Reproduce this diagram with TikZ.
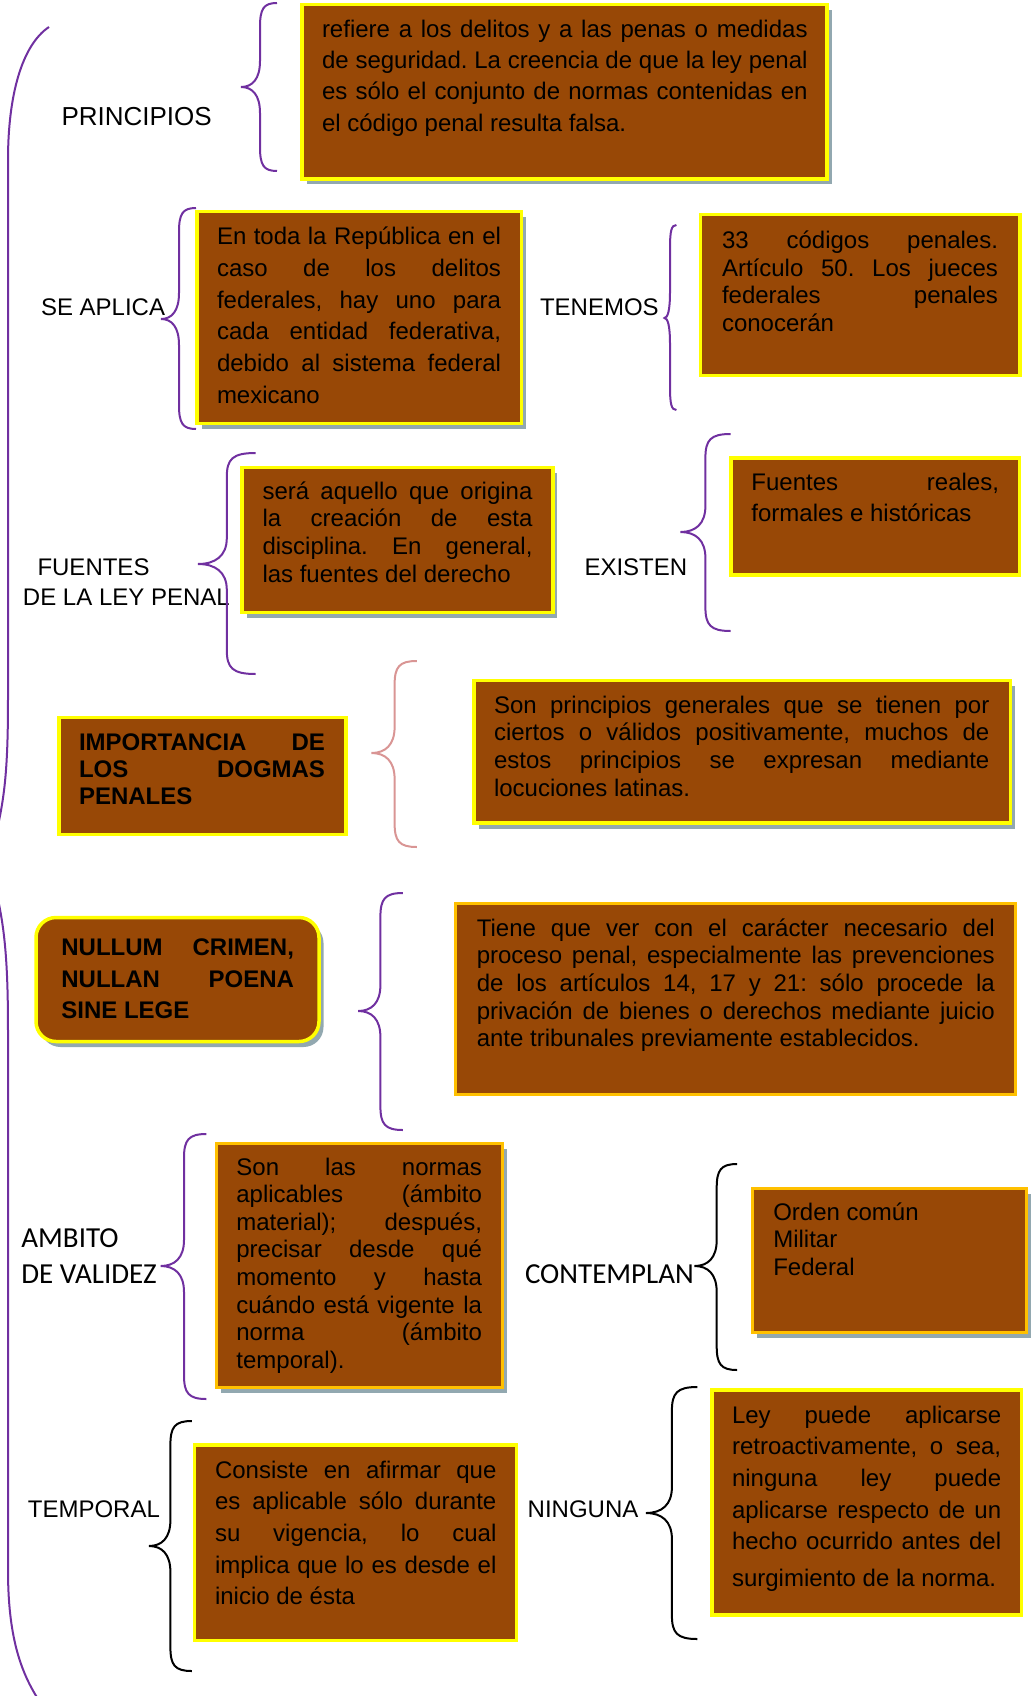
\documentclass[tikz,border=0pt]{standalone}
\usepackage{fontspec}
\setmainfont{Liberation Sans}
\newfontfamily\calib{Carlito}
\usetikzlibrary{shadows}
\frenchspacing
\definecolor{brn}{RGB}{152,72,6}
\definecolor{ylw}{RGB}{255,255,0}
\definecolor{gld}{RGB}{255,192,0}
\definecolor{shd}{RGB}{146,168,176}
\definecolor{prp}{RGB}{112,48,160}
\definecolor{pnk}{RGB}{217,149,148}
\newcommand\jl[1]{\hbox to\hsize{#1}}
\newcommand\el[1]{\hbox{#1}}
\newcommand\tb[3]{\fontsize{24}{#2}\selectfont\frenchspacing\vtop{\hsize=#1pt\lineskiplimit=-100pt #3}}
% xe xs xt ytop ymid ybot options
\newcommand\mybrace[7]{%
 \draw[brc,#7] (#1,#4) .. controls ({#2+0.2*(#1-#2)},#4) and (#2,#4+6) .. (#2,#4+24) -- (#2,#5-26)
 .. controls (#2,#5-8) and ({#2-0.4*(#2-#3)},#5) .. (#3,#5)
 .. controls ({#2-0.4*(#2-#3)},#5) and (#2,#5+8) .. (#2,#5+26) -- (#2,#6-24)
 .. controls (#2,#6-6) and ({#2+0.2*(#1-#2)},#6) .. (#1,#6);}
\tikzset{
 boxy/.style={draw=ylw, fill=brn, line width=3.5pt, rectangle, inner sep=0pt, outer sep=0pt, anchor=north west},
 boxg/.style={boxy, draw=gld, line width=3pt},
 shad/.style={drop shadow={shadow xshift=4.5pt, shadow yshift=-5.5pt, fill=shd, opacity=1}},
 txt/.style={inner sep=0pt, outer sep=0pt, anchor=base west, text=black},
 lbl/.style={txt, font=\fontsize{24}{30}\selectfont},
 clbl/.style={txt, font=\calib\fontsize{29}{36}\selectfont},
 brc/.style={line width=2pt, draw=prp},
}
\begin{document}
\begin{tikzpicture}[x=1pt,y=-1pt]
\useasboundingbox (0,0) rectangle (1034,1696);
% boxes
\node[boxy, shad, minimum width=525pt, minimum height=174.5pt] (b1) at (302,4.5) {};
\node[boxy, shad, minimum width=324.5pt, minimum height=212pt] (b2) at (197,211.5) {};
\node[boxy, minimum width=319.2pt, minimum height=161pt] (b3) at (700.6,214.5) {};
\node[boxy, shad, minimum width=310.8pt, minimum height=145pt] (b4) at (242,467.5) {};
\node[boxy, minimum width=288.4pt, minimum height=117pt] (b5) at (731,458) {};
\node[boxy, minimum width=287pt, minimum height=117pt] (bimp) at (59,717.5) {};
\node[boxy, shad, minimum width=536.6pt, minimum height=142.5pt] (b6) at (474,680.5) {};
\node[boxy, shad, rounded corners=20pt, minimum width=283pt, minimum height=124pt] (bnull) at (36,917.5) {};
\node[boxg, minimum width=560pt, minimum height=191pt] (b7) at (455,903.5) {};
\node[boxg, shad, minimum width=286.6pt, minimum height=244pt] (b8) at (216,1143.5) {};
\node[boxg, shad, minimum width=274pt, minimum height=144pt] (b9) at (752,1188.5) {};
\node[boxy, minimum width=322.1pt, minimum height=195.5pt] (b10) at (194.6,1445) {};
\node[boxy, minimum width=309.3pt, minimum height=225pt] (b11) at (712,1390) {};
% box texts
\node[txt] (t1) at (322,37.3) {\tb{485.6}{31.3}{%
\jl{refiere a los delitos y a las penas o medidas}%
\jl{de seguridad. La creencia de que la ley penal}%
\jl{es sólo el conjunto de normas contenidas en}%
\el{el código penal resulta falsa.}}};
\node[txt] (t2) at (217,245) {\tb{284}{31.66}{%
\jl{En toda la República en el}%
\jl{caso de los delitos}%
\jl{federales, hay uno para}%
\jl{cada entidad federativa,}%
\jl{debido al sistema federal}%
\el{mexicano}}};
\node[txt] (t3) at (722,248.3) {\tb{276}{27.8}{%
\jl{33 códigos penales.}%
\jl{Artículo 50. Los jueces}%
\jl{federales penales}%
\el{conocerán}}};
\node[txt] (t4) at (262.5,499) {\tb{270}{27.8}{%
\jl{será aquello que origina}%
\jl{la creación de esta}%
\jl{disciplina. En general,}%
\el{las fuentes del derecho}}};
\node[txt] (t5) at (751.4,490.7) {\tb{247.6}{31}{%
\jl{Fuentes reales,}%
\el{formales e históricas}}};
\node[txt, font=\bfseries] (timp) at (79,750) {\tb{246}{27.2}{\bfseries
\jl{IMPORTANCIA DE}%
\jl{LOS DOGMAS}%
\el{PENALES}}};
\node[txt] (t6) at (494,713.3) {\tb{495.4}{27.6}{%
\jl{Son principios generales que se tienen por}%
\jl{ciertos o válidos positivamente, muchos de}%
\jl{estos principios se expresan mediante}%
\el{locuciones latinas.}}};
\node[txt, font=\bfseries] (tnull) at (61.4,955.7) {\tb{232.6}{31.3}{\bfseries
\jl{NULLUM CRIMEN,}%
\jl{NULLAN POENA}%
\el{SINE LEGE}}};
\node[txt] (t7) at (476.8,936) {\tb{518}{27.7}{%
\jl{Tiene que ver con el carácter necesario del}%
\jl{proceso penal, especialmente las prevenciones}%
\jl{de los artículos 14, 17 y 21: sólo procede la}%
\jl{privación de bienes o derechos mediante juicio}%
\el{ante tribunales previamente establecidos.}}};
\node[txt] (t8) at (236.4,1175) {\tb{245.6}{27.6}{%
\jl{Son las normas}%
\jl{aplicables (ámbito}%
\jl{material); después,}%
\jl{precisar desde qué}%
\jl{momento y hasta}%
\jl{cuándo está vigente la}%
\jl{norma (ámbito}%
\el{temporal).}}};
\node[txt] (t9) at (773.3,1220) {\tb{230}{27.5}{%
\el{Orden común}%
\el{Militar}%
\el{Federal}}};
\node[txt] (t10) at (215,1478) {\tb{281.4}{31.7}{%
\jl{Consiste en afirmar que}%
\jl{es aplicable sólo durante}%
\jl{su vigencia, lo cual}%
\jl{implica que lo es desde el}%
\el{inicio de ésta}}};
\node[txt] (t11) at (732,1423) {\tb{269.2}{31.7}{%
\jl{Ley puede aplicarse}%
\jl{retroactivamente, o sea,}%
\jl{ninguna ley puede}%
\jl{aplicarse respecto de un}%
\jl{hecho ocurrido antes del}%
\kern4.6pt\el{surgimiento de la norma.}}};
% labels
\node[lbl, font=\fontsize{26}{30}\selectfont] (principios) at (61.5,126) {PRINCIPIOS};
\node[lbl] (seaplica) at (41,315) {SE APLICA};
\node[lbl] (tenemos) at (540,315) {TENEMOS};
\node[lbl] (fuentes) at (23,575) {\vtop{\baselineskip=30.7pt\lineskiplimit=-100pt\hbox{\hskip14.5pt FUENTES}\hbox{DE LA LEY PENAL}}};
\node[lbl] (existen) at (584.5,575) {EXISTEN};
\node[clbl] (ambito) at (21.4,1247) {\vtop{\baselineskip=36pt\lineskiplimit=-100pt\hbox{AMBITO}\hbox{DE VALIDEZ}}};
\node[clbl] (contemplan) at (525,1283) {CONTEMPLAN};
\node[lbl] (temporal) at (27.9,1517) {TEMPORAL};
\node[lbl] (ninguna) at (527.7,1517) {NINGUNA};
% braces
\mybrace{277}{260}{241}{3}{87}{171}{}
\mybrace{196}{179}{161}{208}{319}{429}{}
\mybrace{676.4}{670}{664.5}{225}{318}{410}{}
\mybrace{255.7}{226.8}{198}{453}{564}{674}{}
\mybrace{730.6}{705.4}{680.5}{434}{532}{631}{}
\mybrace{416.8}{394.6}{371.4}{661}{753}{847}{draw=pnk}
\mybrace{402.9}{380.4}{358.2}{893}{1011}{1130}{}
\mybrace{206.4}{184}{160.7}{1134}{1266}{1399}{}
\mybrace{737.2}{716.7}{694.5}{1164}{1266}{1370}{draw=black}
\mybrace{191.8}{170.4}{149}{1421}{1546}{1671}{draw=black}
\mybrace{697.3}{671.9}{646}{1387}{1513}{1639}{draw=black}
% big braces
\draw[brc] (49,27) .. controls (22,45) and (8,95) .. (8,160) -- (8,700) .. controls (8,765) and (5,795) .. (-3,830);
\draw[brc] (-3,895) .. controls (5,930) and (8,965) .. (8,1030) -- (8,1570) .. controls (8,1635) and (20,1672) .. (40,1702);
\end{tikzpicture}
\end{document}
